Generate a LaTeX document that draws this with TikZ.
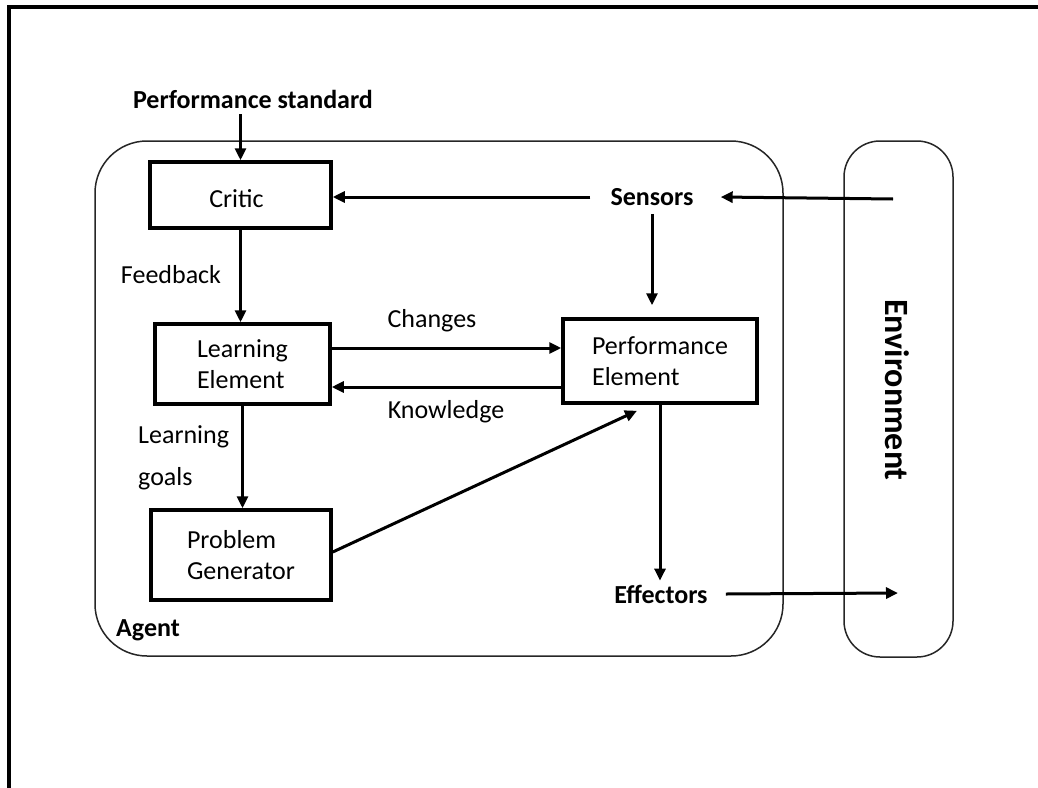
\documentclass[tikz,border=0pt]{standalone}
\usepackage{fontspec}
\setmainfont{Carlito}
\usetikzlibrary{arrows.meta}
\begin{document}
\begin{tikzpicture}[x=1pt,y=-1pt,
  every node/.style={font=\fontsize{26}{31}\selectfont, inner sep=0pt},
  box/.style={draw, line width=3.5pt, align=left},
  bold/.style={font=\fontsize{26}{31}\selectfont\bfseries},
  arr/.style={line width=3pt, -{Triangle[length=12pt,width=11pt]}},
  region/.style={draw=black!85, line width=1.5pt}]
\useasboundingbox (0,0) rectangle (1038,787);

% page frame
\draw[line width=3.5pt] (9,790) -- (9,7) -- (1040,7);

% agent and environment regions
\node[region, rounded corners=52pt, minimum width=688pt, minimum height=515pt] (agent) at (439,398.5) {};
\node[region, rounded corners=36pt, minimum width=109pt, minimum height=516pt] (env) at (898.5,399) {};
\node[font=\fontsize{34}{40}\selectfont\bfseries, rotate=-90] (envtext) at (897,390) {Environment};

% component boxes
\node[box, minimum width=181pt, minimum height=66pt] (critic) at (240.5,195) {\raisebox{-4pt}[\height][\depth]{Critic}\hspace{8pt}};
\node[box, minimum width=175pt, minimum height=80pt] (learn) at (242.5,364) {Learning\\Element};
\node[box, minimum width=194pt, minimum height=84pt] (perf) at (660,361) {Performance\\Element};
\node[box, minimum width=180pt, minimum height=90pt] (prob) at (241,555) {Problem\\Generator\hspace{20pt}};

% labels
\node[bold] (ps) at (253,99) {Performance standard};
\node[bold] (sensors) at (652,197) {Sensors};
\node[bold] (eff) at (661,594) {Effectors};
\node[bold] (agentlbl) at (148,630) {Agent};
\node (fb) at (171,275) {Feedback};
\node (ch) at (432,321) {Changes};
\node (kn) at (446,412) {Knowledge};
\node[anchor=west] (lg1) at (138,437) {Learning};
\node[anchor=west] (lg2) at (138,479) {goals};

% free ends at the environment
\coordinate (envS) at (893,199);
\coordinate (envE) at (898,593);

% connectors
\draw[arr] ([yshift=-6pt]critic.north |- ps.south) -- (critic.north);
\draw[arr] ([xshift=-20pt]sensors.west) -- (critic.east |- sensors.west);
\draw[arr] (envS) -- ([xshift=27pt]sensors.east);
\draw[arr] ([yshift=-8pt]sensors.south) -- ([yshift=12pt]perf.north -| sensors.south);
\draw[arr] (critic.south) -- (critic.south |- learn.north);
\draw[arr] ([yshift=16pt]learn.east) -- ([yshift=16pt]learn.east -| perf.west);
\draw[arr] ([yshift=-23pt]learn.east -| perf.west) -- ([yshift=-23pt]learn.east);
\draw[arr] (learn.south) -- (learn.south |- prob.north);
\draw[arr] ([yshift=3pt]prob.east) -- ([xshift=-23pt,yshift=-6pt]perf.south);
\draw[arr] (perf.south) -- ([yshift=4pt]perf.south |- eff.north);
\draw[arr] ([xshift=18pt]eff.east) -- (envE);
\end{tikzpicture}
\end{document}
